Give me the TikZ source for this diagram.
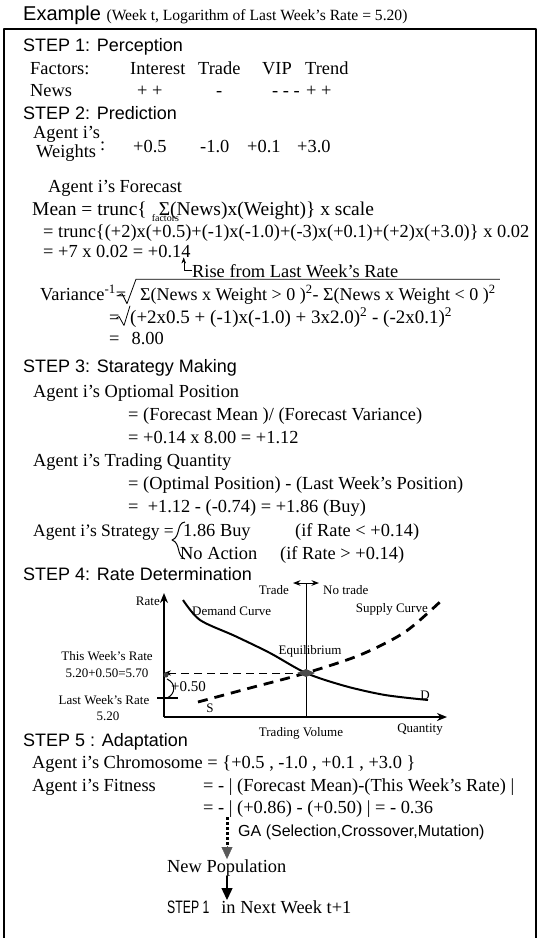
\documentclass[tikz,border=0pt]{standalone}
\usepackage{fontspec}
\setmainfont{Liberation Serif}
\setsansfont{Liberation Sans}
\usetikzlibrary{calc,arrows.meta,positioning}

\newcommand{\facsum}{\rlap{\hspace{-7pt}\raisebox{-6pt}{\fontsize{10}{10}\selectfont factors}}Σ}

\begin{document}
\begin{tikzpicture}[x=1pt,y=-1pt,>=Stealth,line join=round,
  txt/.style={anchor=base west,inner sep=0pt,font=\fontsize{18.4}{20}\selectfont},
  hd/.style={anchor=base west,inner sep=0pt,font=\sffamily\fontsize{18}{20}\selectfont},
  lbl/.style={inner sep=0pt,font=\fontsize{13}{15}\selectfont},
  axis/.style={line width=1.8pt,-{Stealth[length=10pt,width=8pt]}},
  head/.style={-{Triangle[length=12pt,width=11pt]}}]
  \useasboundingbox (0,0) rectangle (540,938);
  \draw[line width=1.1pt] (4,942) -- (4,29) -- (536,29) -- (536,942);

  \node[anchor=base west,inner sep=0pt] (title) at (23,20) {\sffamily\fontsize{20}{22}\selectfont Example \rmfamily\fontsize{15.6}{17}\selectfont(Week t, Logarithm of Last Week's Rate = 5.20)};

  \node[hd] (s1) at (23,51) {STEP 1: Perception};
  \node[txt] (fac) at (30,74) {Factors:};
  \node[txt] (fi) at (130,74) {Interest};
  \node[txt] (ft) at (198,74) {Trade};
  \node[txt] (fv) at (262,74) {VIP};
  \node[txt] (fr) at (305,74) {Trend};
  \node[txt] (news) at (30,96) {News};
  \node[txt] (ni) at (137,96) {+ +};
  \node[txt] (nt) at (216,96) {-};
  \node[txt] (nv) at (272,96) {- - -};
  \node[txt] (nr) at (306,96) {+ +};

  \node[hd] (s2) at (23,119) {STEP 2: Prediction};
  \node[txt] (ag) at (33,138) {Agent i's};
  \node[txt] (wt) at (36,157) {Weights};
  \node[txt] (col) at (100,150) {:};
  \node[txt] (w1) at (133,152) {+0.5};
  \node[txt] (w2) at (200,152) {-1.0};
  \node[txt] (w3) at (247,152) {+0.1};
  \node[txt] (w4) at (297,152) {+3.0};

  \node[txt] (fc) at (48,192) {Agent i's Forecast};
  \node[txt,font=\fontsize{19.5}{21}\selectfont] (m1) at (32,215) {Mean = trunc\{\hspace{12pt}\facsum(News)x(Weight)\} x scale};
  \node[txt] (m2) at (43,237) {= trunc\{(+2)x(+0.5)+(-1)x(-1.0)+(-3)x(+0.1)+(+2)x(+3.0)\} x 0.02};
  \node[txt] (m3) at (43,257) {= +7 x 0.02 = +0.14};
  \node[txt] (rise) at (192,277) {Rise from Last Week's Rate};
  \draw[-{Stealth[length=6pt]}] (rise.west) -| ($(m3.south east)+(-7,0)$);

  \node[txt] (vl) at (40,300) {Variance\textsuperscript{-1}=};
  \node[txt,font=\fontsize{18}{20}\selectfont] (vr) at (140,300) {Σ(News x Weight > 0 )\textsuperscript{2}- Σ(News x Weight < 0 )\textsuperscript{2}};
  \draw[line width=0.8pt] ($(vr.west)+(-22,1)$) -- ++(4,-2) -- ++(5,10) -- ($(vr.north west)+(-4,-6)$) -- ($(vr.north east)+(4,-6)$);
  \node[txt] (v2l) at (109,323) {=};
  \node[txt,font=\fontsize{19}{21}\selectfont] (v2r) at (130,323) {(+2x0.5 + (-1)x(-1.0) + 3x2.0)\textsuperscript{2} - (-2x0.1)\textsuperscript{2}};
  \draw[line width=0.8pt] ($(v2r.west)+(-14,1)$) -- ++(3,-2) -- ++(5,9) -- ($(v2r.north west)+(0,-2)$);
  \node[txt] (v3) at (109,344) {=\hspace{12pt}8.00};

  \node[hd] (s3) at (23,372) {STEP 3: Starategy Making};
  \node[txt] (op) at (33,397) {Agent i's Optiomal Position};
  \node[txt] (op1) at (128,420) {= (Forecast Mean )/ (Forecast Variance)};
  \node[txt] (op2) at (128,443) {= +0.14 x 8.00 = +1.12};
  \node[txt] (tq) at (33,466) {Agent i's Trading Quantity};
  \node[txt] (tq1) at (128,489) {= (Optimal Position) - (Last Week's Position)};
  \node[txt] (tq2) at (128,512) {=\ \ +1.12 - (-0.74) = +1.86 (Buy)};
  \node[txt,font=\fontsize{17.5}{20}\selectfont] (st) at (33,536) {Agent i's Strategy =};
  \node[txt] (st1) at (183,536) {1.86 Buy};
  \node[txt] (st2) at (295,536) {(if Rate < +0.14)};
  \node[txt] (st3) at (180,559) {No Action};
  \node[txt] (st4) at (280,559) {(if Rate > +0.14)};
  \draw[line width=1pt] (185,522) .. controls (176,523) and (181,537) .. (172,540) .. controls (181,543) and (176,556) .. (185,559);

  \node[hd] (s4) at (23,580) {STEP 4: Rate Determination};
  \coordinate (O) at (164,717);
  \coordinate (Ytop) at (164,593);
  \coordinate (Xend) at (447,717);
  \coordinate (E) at (306,673);
  \coordinate (Vtop) at (306,583);
  \coordinate (LW) at (164,698);
  \draw[axis] (O) -- (Ytop);
  \draw[axis] (O) -- (Xend);
  \draw[line width=1pt] (E |- O) -- (Vtop);
  \draw[line width=1pt,<->] ($(Vtop)+(-13,0)$) -- ($(Vtop)+(13,0)$);
  \draw[line width=2pt] plot[smooth] coordinates {(183,600) (200,620) (235,636) (270,653) (306,673) (345,686) (385,695) (428,700)};
  \draw[line width=2.8pt,dash pattern=on 10pt off 7pt] plot[smooth] coordinates {(198,702) (250,688) (306,673) (360,655) (405,632) (442,600)};
  \draw[line width=1pt,dash pattern=on 8pt off 5pt,-{Stealth[length=7pt]}] (E) -- (E -| O);
  \fill[gray!60!black] ($(E)+(-9,0)$) -- ($(E)+(0,-4)$) -- ($(E)+(9,0)$) -- ($(E)+(0,4)$) -- cycle;
  \fill[gray!50!black] ($(E -| O)+(2,2)$) circle (2.5);
  \draw[line width=1.2pt] ($(LW)+(-7,0)$) -- ($(LW)+(14,0)$);
  \draw[line width=1pt] (167,679) .. controls (176,683) and (176,694) .. (167,698);

  \node[lbl,anchor=east] (rate) at (160,601) {Rate};
  \node[lbl,anchor=west] (dem) at (192,611) {Demand Curve};
  \node[lbl,anchor=east] (trade) at (289,590) {Trade};
  \node[lbl,anchor=west] (notrade) at (323,590) {No trade};
  \node[lbl,anchor=east] (sup) at (428,609) {Supply Curve};
  \node[lbl] (eql) at (310,651) {Equilibrium};
  \node[lbl] (tw) at (107,656) {This Week's Rate};
  \node[lbl] (twv) at (107,673) {5.20+0.50=5.70};
  \node[lbl] (lw) at (104,700) {Last Week's Rate};
  \node[lbl] (lwv) at (108,716) {5.20};
  \node[lbl] (sl) at (210,708) {S};
  \node[lbl] (dl) at (425,695) {D};
  \node[lbl] (tv) at (301,733) {Trading Volume};
  \node[lbl] (qty) at (420,730) {Quantity};
  \node[anchor=west,inner sep=0pt,font=\fontsize{15}{17}\selectfont] (up) at (171,687) {+0.50};

  \node[hd] (s5) at (23,746) {STEP 5 : Adaptation};
  \node[txt] (chr) at (32,768) {Agent i's Chromosome = \{+0.5 , -1.0 , +0.1 , +3.0 \}};
  \node[txt] (fit) at (32,791) {Agent i's Fitness};
  \node[txt] (fit1) at (203,791) {= - | (Forecast Mean)-(This Week's Rate) |};
  \node[txt] (fit2) at (203,813) {= - | (+0.86) - (+0.50) | = - 0.36};
  \node[anchor=base west,inner sep=0pt,font=\sffamily\fontsize{16}{18}\selectfont] (ga) at (238,836) {GA (Selection,Crossover,Mutation)};
  \node[txt] (newpop) at (167,872) {New Population};
  \node[anchor=base west,inner sep=0pt] (next) at (167,913) {\sffamily\fontsize{18}{20}\selectfont\scalebox{0.68}[1]{STEP 1}\rmfamily\fontsize{18.4}{20}\selectfont\hspace{12pt}in Next Week t+1};
  \coordinate (gax) at (227,800);
  \draw[line width=3pt,dash pattern=on 2.5pt off 2.5pt] (gax |- fit2.south) -- ($(gax |- newpop.north)+(0,-12)$);
  \draw[head,gray!70!black] ($(gax |- newpop.north)+(0,-13)$) -- (gax |- newpop.north);
  \draw[line width=1.2pt,head] (gax |- newpop.south) -- (gax |- next.north);
\end{tikzpicture}
\end{document}
